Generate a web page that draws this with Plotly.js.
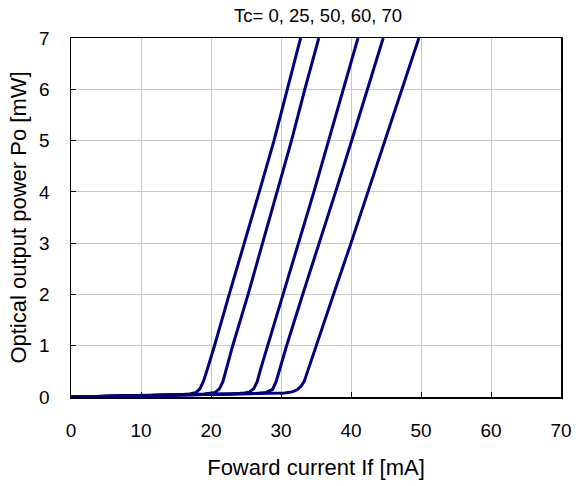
<!DOCTYPE html>
<html>
<head>
<meta charset="utf-8">
<script src="https://cdn.plot.ly/plotly-3.0.1.min.js"></script>
<style>body{margin:0;background:#fff}#chart{width:576px;height:486px}</style>
</head>
<body>
<div id="chart"></div>
<script>
// Forward current If [mA] and optical output power Po [mW] for Tc = 0, 25, 50, 60, 70 °C
var temps = ["0", "25", "50", "60", "70"];

var if0 = [0, 4, 8, 12, 15, 17, 17.9, 18.4, 18.9, 19.5, 20.5, 22.6, 24.8, 26.9, 29.0, 30.9, 32.8];
var po0 = [0, 0.01, 0.02, 0.03, 0.04, 0.06, 0.09, 0.16, 0.3, 0.55, 1, 2, 3, 4, 5, 6, 7];

var if25 = [0, 4, 8, 12, 16, 19, 20.6, 21.2, 21.7, 22.2, 23.1, 25.3, 27.4, 29.5, 31.5, 33.4, 35.4];
var po25 = [0, 0.01, 0.02, 0.03, 0.04, 0.06, 0.09, 0.16, 0.3, 0.55, 1, 2, 3, 4, 5, 6, 7];

var if50 = [0, 4, 8, 12, 16, 20, 23, 24.8, 25.5, 26.1, 26.6, 27.1, 28.1, 30.3, 32.5, 34.7, 36.8, 38.9, 41.0];
var po50 = [0, 0.01, 0.02, 0.03, 0.04, 0.05, 0.06, 0.08, 0.1, 0.16, 0.3, 0.55, 1, 2, 3, 4, 5, 6, 7];

var if60 = [0, 4, 8, 12, 16, 20, 24, 26.5, 27.9, 28.8, 29.3, 29.8, 30.8, 33.1, 35.5, 37.8, 40.1, 42.4, 44.6];
var po60 = [0, 0.01, 0.02, 0.03, 0.04, 0.05, 0.06, 0.07, 0.09, 0.15, 0.3, 0.55, 1, 2, 3, 4, 5, 6, 7];

var if70 = [0, 4, 8, 12, 16, 20, 24, 28, 30.5, 31.6, 32.3, 32.8, 33.3, 33.8, 35.0, 37.5, 40.0, 42.4, 44.8, 47.3, 49.7];
var po70 = [0, 0.01, 0.02, 0.03, 0.04, 0.05, 0.06, 0.07, 0.08, 0.1, 0.14, 0.2, 0.3, 0.5, 1, 2, 3, 4, 5, 6, 7];

var xTicks = [0, 10, 20, 30, 40, 50, 60, 70];
var yTicks = [0, 1, 2, 3, 4, 5, 6, 7];

var series = [[if0, po0], [if25, po25], [if50, po50], [if60, po60], [if70, po70]];
var traces = series.map(function (s, i) {
  return {
    x: s[0], y: s[1], type: "scatter", mode: "lines",
    name: "Tc=" + temps[i],
    line: {color: "#000080", width: 3},
    hoverinfo: "x+y"
  };
});

var FONT = "Arial, 'Liberation Sans', sans-serif";
var layout = {
  width: 576, height: 486,
  margin: {l: 71, r: 15, t: 38, b: 89},
  paper_bgcolor: "#ffffff", plot_bgcolor: "#ffffff",
  showlegend: false,
  font: {family: FONT, color: "#000000"},
  xaxis: {
    range: [0, 70], tickvals: xTicks, ticktext: xTicks.map(String),
    ticks: "inside", ticklen: 5, tickcolor: "#000", tickwidth: 1,
    showgrid: true, gridcolor: "#c8c8c8", gridwidth: 1,
    showline: true, linecolor: "#000", linewidth: 1.5, mirror: true,
    zeroline: false, layer: "below traces",
    tickfont: {size: 19, family: FONT},
    ticklabelstandoff: 16,
    title: {text: "Foward current If [mA]", font: {size: 22, family: FONT}, standoff: 19}
  },
  yaxis: {
    range: [0, 7], tickvals: yTicks, ticktext: yTicks.map(String),
    ticks: "inside", ticklen: 5, tickcolor: "#000", tickwidth: 1,
    showgrid: true, gridcolor: "#c8c8c8", gridwidth: 1,
    showline: true, linecolor: "#000", linewidth: 1.5, mirror: true,
    zeroline: false, layer: "below traces",
    tickfont: {size: 19, family: FONT},
    ticklabelstandoff: 16,
    title: {text: "Optical output power Po [mW]", font: {size: 22, family: FONT}, standoff: 6}
  },
  annotations: [{
    text: "Tc= " + temps.join(", "),
    xref: "paper", yref: "paper", x: 0.505, y: 1, yshift: 23,
    xanchor: "center", yanchor: "middle", showarrow: false,
    font: {size: 18.5, family: FONT, color: "#000"}
  }]
};

Plotly.newPlot("chart", traces, layout, {displayModeBar: false, staticPlot: true});
</script>
</body>
</html>
